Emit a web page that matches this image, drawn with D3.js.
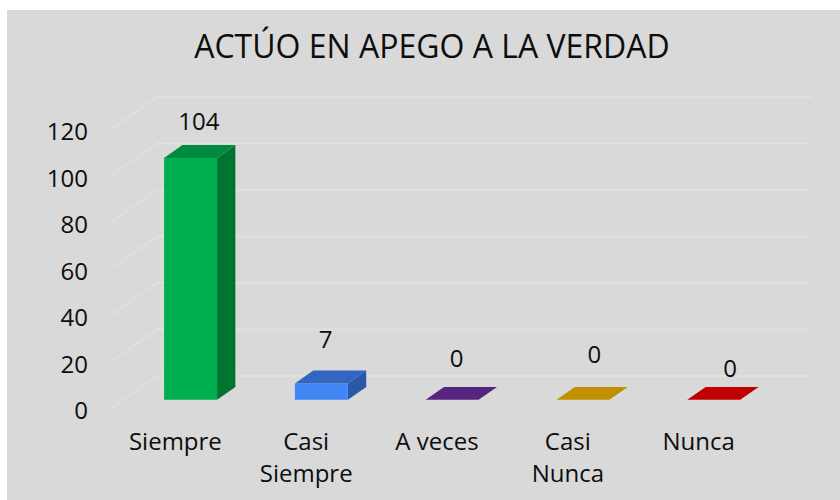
<!DOCTYPE html>
<html>
<head>
<meta charset="utf-8">
<script src="https://cdn.jsdelivr.net/npm/d3@7/dist/d3.min.js"></script>
<style>
  html, body { margin: 0; padding: 0; background: #ffffff; }
  svg { display: block; }
  text { font-family: "Open Sans", "Noto Sans", sans-serif; fill: #0d0d0d; }
</style>
</head>
<body>
<svg id="chart" width="840" height="500"></svg>
<script>
// ---- data ----
const title = "ACTÚO EN APEGO A LA VERDAD";
const categories = ["Siempre", "Casi Siempre", "A veces", "Casi Nunca", "Nunca"];
const values = [104, 7, 0, 0, 0];
const yTicks = [0, 20, 40, 60, 80, 100, 120];
const frontColors = ["#00b050", "#4285f4", "#5b2683", "#c29300", "#c00000"];
const topColors   = ["#008a3e", "#3366c2", "#572480", "#c09000", "#c00000"];
const sideColors  = ["#00752f", "#2b57a8", "#4a1f6d", "#a07800", "#a00000"];

// ---- layout (not data) ----
const labelDx = [0, -4, -4, 3, 8];
const labelDy = [15, 23, 20, 24, 10];

const svg = d3.select("#chart");
svg.append("rect").attr("x", 7).attr("y", 10).attr("width", 833).attr("height", 490).attr("fill", "#d9d9d9");

const x = d3.scaleBand().domain(categories).range([110, 764]).paddingInner(0.595).paddingOuter(0.2975);
const y = d3.scaleLinear().domain([0, 120]).range([409, 130]);
const DX = 47, DY = 33;
const proj = (px, v, z) => [px + DX * z, y(v) - DY * z];
const z0 = 0.28, z1 = 0.67;

// gridlines (back wall) and side-wall diagonals
const grid = svg.append("g").attr("stroke", "#e2e2e2").attr("stroke-width", 1.3).attr("fill", "none");
yTicks.forEach(t => {
  const a = proj(110, t, 1), b = proj(764, t, 1), c = proj(110, t, 0);
  grid.append("line").attr("x1", a[0]).attr("y1", a[1]).attr("x2", b[0]).attr("y2", b[1]);
  grid.append("line").attr("x1", c[0]).attr("y1", c[1]).attr("x2", a[0]).attr("y2", a[1]);
});

// y axis
const yAxis = svg.append("g").attr("transform", "translate(88,2)")
  .call(d3.axisLeft(y).tickValues(yTicks).tickSize(0).tickPadding(0));
yAxis.select(".domain").remove();
yAxis.selectAll("text").style("font-size", "24px").attr("fill", "#0d0d0d")
  .style("font-family", '"Open Sans", sans-serif');

// bars
const bars = svg.append("g");
categories.forEach((c, i) => {
  const v = values[i];
  const bx0 = x(c) + 2, bx1 = x(c) + x.bandwidth() + 2;
  const pts = arr => arr.map(p => p.join(",")).join(" ");
  const front = [proj(bx0, 0, z0), proj(bx1, 0, z0), proj(bx1, v, z0), proj(bx0, v, z0)];
  const side = [proj(bx1, 0, z0), proj(bx1, v, z0), proj(bx1, v, z1), proj(bx1, 0, z1)];
  const top = [proj(bx0, v, z0), proj(bx1, v, z0), proj(bx1, v, z1), proj(bx0, v, z1)];
  if (v > 0) {
    bars.append("polygon").attr("points", pts(side)).attr("fill", sideColors[i]);
    bars.append("polygon").attr("points", pts(front)).attr("fill", frontColors[i]);
  }
  bars.append("polygon").attr("points", pts(top)).attr("fill", topColors[i]);
  const lp = proj(x(c) + x.bandwidth() / 2, v, 0.5);
  const ly = proj(0, v, z1)[1];
  svg.append("text").attr("x", lp[0] + labelDx[i]).attr("y", ly - labelDy[i])
    .attr("text-anchor", "middle").style("font-size", "24px").text(v);
});

// x labels
categories.forEach(c => {
  const words = c.split(" ");
  const cx = x(c) + x.bandwidth() / 2;
  const lines = words.length > 1 && c !== "A veces" ? words : [c];
  const t = svg.append("text").attr("text-anchor", "middle").style("font-size", "24px");
  lines.forEach((w, k) => {
    t.append("tspan").attr("x", cx).attr("y", 450 + k * 32).text(w);
  });
});

// title
svg.append("text").attr("x", 432).attr("y", 58).attr("text-anchor", "middle")
  .style("font-size", "32px").text(title);
</script>
</body>
</html>
